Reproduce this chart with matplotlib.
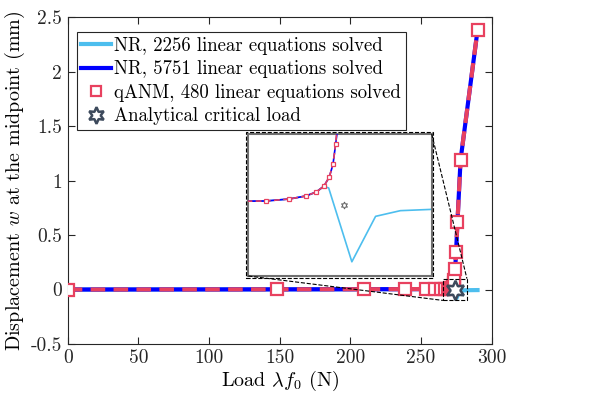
import matplotlib
matplotlib.use("Agg")
import matplotlib.pyplot as plt
from matplotlib.patches import Rectangle
from matplotlib.lines import Line2D
from mpl_toolkits.axes_grid1.inset_locator import mark_inset

plt.rcParams['font.family'] = ['cmr10', 'DejaVu Serif']
plt.rcParams['mathtext.fontset'] = 'cm'
plt.rcParams['axes.unicode_minus'] = False
plt.rcParams['axes.formatter.use_mathtext'] = False

# ---- data ----
# NR, 5751 linear equations (blue)
nr_fine_x = [0, 50, 100, 148, 200, 238.5, 253.5, 260, 264, 267.1, 269.3, 270.85,
             271.8, 272.5, 273.0, 273.35, 273.6, 273.8, 274.2, 274.8, 275.8, 278.0, 290.0]
nr_fine_y = [0, 0.0005, 0.001, 0.0015, 0.0025, 0.0035, 0.0045, 0.005, 0.0052, 0.0056,
             0.0084, 0.0127, 0.0183, 0.0263, 0.039, 0.057, 0.086, 0.11, 0.19, 0.34,
             0.62, 1.19, 2.38]
# NR, 2256 linear equations (light blue)
nr_coarse_x = [0, 50, 100, 148, 200, 238.5, 253.5, 260, 264, 267.1, 269.3, 270.85,
               271.8, 272.5, 272.95, 275.1, 277.3, 279.6, 282.8, 290.0]
nr_coarse_y = [0, 0.0005, 0.001, 0.0015, 0.0025, 0.0035, 0.0045, 0.005, 0.0052, 0.0056,
               0.0084, 0.0127, 0.0183, 0.0263, 0.024, -0.08, -0.016, -0.008, -0.006, -0.005]
# qANM points
qanm_x = [0, 148, 210, 238.5, 253.5, 260, 264, 267.1, 269.3, 270.85, 271.8, 272.5,
          273.0, 273.35, 273.6, 274.2, 274.8, 275.8, 278.0, 290.0]
qanm_y = [0, 0.0015, 0.0027, 0.0035, 0.0045, 0.005, 0.0052, 0.0056, 0.0084, 0.0127,
          0.0183, 0.0263, 0.039, 0.057, 0.086, 0.19, 0.34, 0.62, 1.19, 2.38]
# analytical critical load
crit_x = [274.4]
crit_y = [0.0]

xticks = [0, 50, 100, 150, 200, 250, 300]
yticks = [-0.5, 0, 0.5, 1, 1.5, 2, 2.5]
ytick_labels = ['-0.5', '0', '0.5', '1', '1.5', '2', '2.5']

c_light = '#4dbeee'
c_blue = '#0000ff'
c_red = '#e8415f'
c_star = '#3d4a5c'

fig = plt.figure(figsize=(6.10, 4.19), dpi=100)
ax = fig.add_axes([0.111, 0.179, 0.695, 0.780])

hexagram = (6, 1, 0)

def draw(a, lw, ms, sms, mew, smew, star_c):
    a.plot(nr_coarse_x, nr_coarse_y, color=c_light, lw=lw, zorder=2)
    a.plot(nr_fine_x, nr_fine_y, color=c_blue, lw=lw, zorder=3)
    a.plot(qanm_x, qanm_y, color=c_red, lw=lw, dashes=(3.5, 2), zorder=4)
    a.plot(qanm_x, qanm_y, ls='none', marker='s', ms=ms, mfc='white', mec=c_red,
           mew=mew, zorder=5)
    a.plot(crit_x, crit_y, ls='none', marker=hexagram, ms=sms, mfc='white',
           mec=star_c, mew=smew, zorder=6)

draw(ax, 3.0, 8, 14, 1.6, 1.8, c_star)

ax.set_xlim(0, 300)
ax.set_ylim(-0.5, 2.5)
ax.set_xticks(xticks)
ax.set_xticklabels([str(t) for t in xticks])
ax.set_yticks(yticks)
ax.set_yticklabels(ytick_labels)
ax.tick_params(direction='in', top=True, right=True, labelsize=14, length=5,
               width=0.8, colors='#262626', pad=4)
for s in ax.spines.values():
    s.set_color('#262626')
    s.set_linewidth(0.8)
ax.set_xlabel(r'Load $\lambda f_0$ (N)', fontsize=14.5, labelpad=1)
ax.set_ylabel(r'Displacement $w$ at the midpoint (mm)', fontsize=14.5, labelpad=3)

handles = [
    Line2D([], [], color=c_light, lw=3),
    Line2D([], [], color=c_blue, lw=3),
    Line2D([], [], ls='none', marker='s', ms=7, mfc='white', mec=c_red, mew=1.6),
    Line2D([], [], ls='none', marker=hexagram, ms=12, mfc='white', mec=c_star, mew=1.8),
]
labels = ['NR, 2256 linear equations solved', 'NR, 5751 linear equations solved',
          'qANM, 480 linear equations solved', 'Analytical critical load']
leg = ax.legend(handles, labels, loc='upper left', bbox_to_anchor=(0.021, 0.955),
                fontsize=13.5, fancybox=False, framealpha=1, edgecolor='#262626',
                handlelength=1.6, handletextpad=0.15, borderpad=0.25, labelspacing=0.3,
                borderaxespad=0)
leg.get_frame().set_linewidth(0.8)

# inset
axins = fig.add_axes([0.407, 0.3413, 0.3007, 0.339])
draw(axins, 1.2, 3.5, 5, 0.9, 0.7, '#606060')
axins.set_xlim(265.5, 282.5)
axins.set_ylim(-0.1, 0.1)
axins.set_xticks([])
axins.set_yticks([])
for s in axins.spines.values():
    s.set_color('#707070')
    s.set_linewidth(1.5)
mark_inset(ax, axins, loc1=1, loc2=3, fc='none', ec='k', ls='--', lw=0.8, zorder=7)

fig.patches.append(Rectangle((0.4033, 0.3372), 0.307, 0.3485, transform=fig.transFigure,
                             fill=False, ec='k', ls='--', lw=0.8))

fig.savefig('out.png', dpi=100)
